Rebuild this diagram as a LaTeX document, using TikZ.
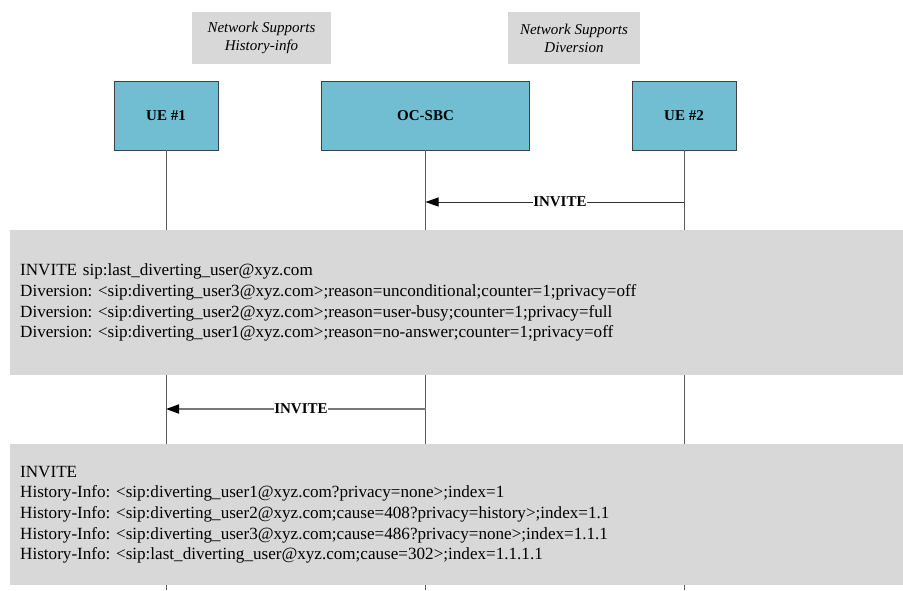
\documentclass[tikz,border=0pt]{standalone}
\usepackage{fontspec}
\setmainfont{Liberation Serif}
\usetikzlibrary{arrows.meta}
\definecolor{boxblue}{RGB}{113,189,209}
\definecolor{panelgrey}{RGB}{216,216,216}
\definecolor{lifegrey}{RGB}{90,90,90}
\definecolor{msggrey}{RGB}{120,120,120}
\frenchspacing
\begin{document}
\begin{tikzpicture}[x=1pt,y=-1pt,
  entity/.style={draw=black!75, line width=0.9pt, fill=boxblue, inner sep=0pt,
    font=\bfseries\fontsize{15}{18}\selectfont},
  note/.style={fill=panelgrey, inner sep=0pt, align=center,
    font=\itshape\fontsize{15}{18}\selectfont},
  panel/.style={fill=panelgrey, inner xsep=10pt, inner ysep=0pt, anchor=north west,
    align=left, font=\fontsize{17.1}{20.6}\selectfont},
  lifeline/.style={draw=lifegrey, line width=0.9pt},
  msgA/.style={draw=black!80, line width=0.9pt, -{Triangle[length=13pt,width=9pt,color=black]}},
  msgB/.style={draw=msggrey, line width=1.8pt, -{Triangle[length=13pt,width=9pt,color=black]}},
  msglabel/.style={fill=white, inner xsep=0pt, inner ysep=1pt,
    font=\bfseries\fontsize{15}{18}\selectfont}
]
\useasboundingbox (0,0) rectangle (903,590);

% notes
\node[note, minimum width=139pt, minimum height=52pt] (n1) at (261.5,38) {Network Supports\\History-info};
\node[note, minimum width=132pt, minimum height=52pt] (n2) at (574,38) {Network Supports\\Diversion};

% entities
\node[entity, minimum width=104pt, minimum height=69pt] (ue1) at (166,115.5) {UE \#1};
\node[entity, minimum width=208pt, minimum height=69pt] (sbc) at (425.5,115.5) {OC-SBC};
\node[entity, minimum width=104pt, minimum height=69pt] (ue2) at (684,115.5) {UE \#2};

% lifeline ends
\coordinate (e1) at (ue1.south |- 0,590);
\coordinate (e2) at (sbc.south |- 0,590);
\coordinate (e3) at (ue2.south |- 0,590);
\draw[lifeline] (ue1.south) -- (e1);
\draw[lifeline] (sbc.south) -- (e2);
\draw[lifeline] (ue2.south) -- (e3);

% message 1
\coordinate (m1s) at (ue2.south |- 0,202);
\coordinate (m1e) at (sbc.south |- 0,202);
\draw[msgA] (m1s) -- (m1e) node[msglabel, pos=0.48] (l1) {INVITE};

% panel 1
\node[panel, minimum width=893pt, minimum height=145pt, text width=873pt] (p1) at (10,230)
{INVITE sip:last\_diverting\_user@xyz.com\\
Diversion: <sip:diverting\_user3@xyz.com>;reason=unconditional;counter=1;privacy=off\\
Diversion: <sip:diverting\_user2@xyz.com>;reason=user-busy;counter=1;privacy=full\\
Diversion: <sip:diverting\_user1@xyz.com>;reason=no-answer;counter=1;privacy=off};

% message 2
\coordinate (m2s) at (sbc.south |- 0,409);
\coordinate (m2e) at (ue1.south |- 0,409);
\draw[msgB] (m2s) -- (m2e) node[msglabel, pos=0.48] (l2) {INVITE};

% panel 2
\node[panel, minimum width=893pt, minimum height=141pt, text width=873pt] (p2) at (10,444)
{INVITE\\
History-Info: <sip:diverting\_user1@xyz.com?privacy=none>;index=1\\
History-Info: <sip:diverting\_user2@xyz.com;cause=408?privacy=history>;index=1.1\\
History-Info: <sip:diverting\_user3@xyz.com;cause=486?privacy=none>;index=1.1.1\\
History-Info: <sip:last\_diverting\_user@xyz.com;cause=302>;index=1.1.1.1};
\end{tikzpicture}
\end{document}
